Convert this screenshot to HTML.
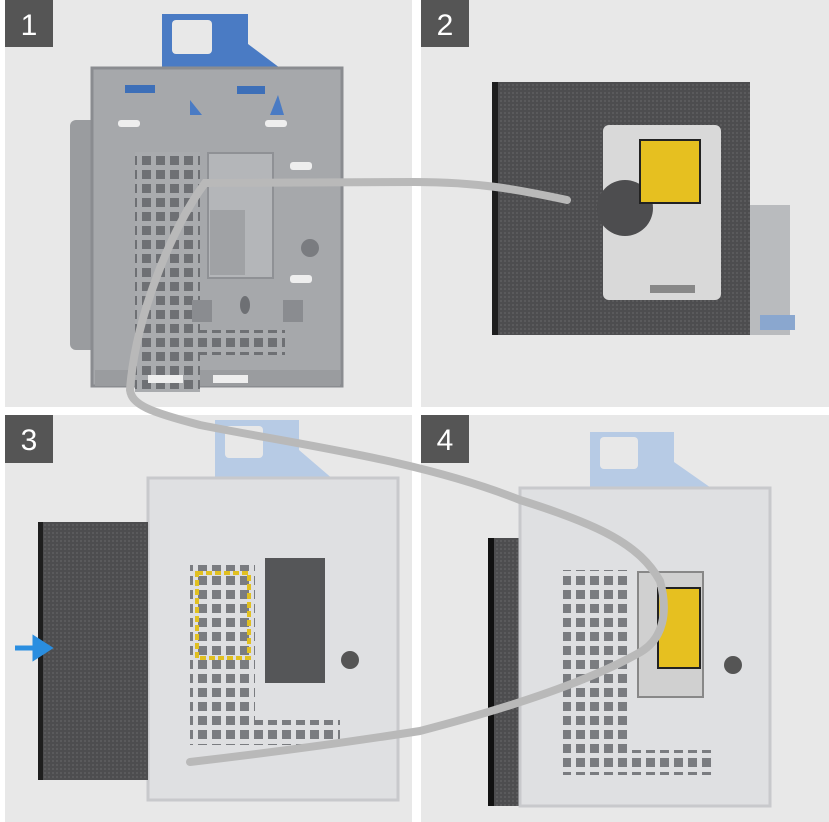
<!DOCTYPE html>
<html><head><style>
html,body{margin:0;padding:0;background:#fff;}
svg{display:block}
text{font-family:"Liberation Sans",sans-serif}
</style></head><body>
<svg width="829" height="822" viewBox="0 0 829 822" xmlns="http://www.w3.org/2000/svg">
<defs>
<pattern id="g1" width="14" height="14" patternUnits="userSpaceOnUse"><rect width="14" height="14" fill="#a9abae"/><rect x="2" y="2" width="9" height="9" fill="#6e7074"/></pattern>
<pattern id="g2" width="14" height="14" patternUnits="userSpaceOnUse"><rect width="14" height="14" fill="#dedfe1"/><rect x="2" y="2" width="9" height="9" fill="#7a7c80"/></pattern>
<pattern id="dr" width="4" height="4" patternUnits="userSpaceOnUse"><rect width="4" height="4" fill="#4d4d4f"/><rect width="2" height="2" fill="#5a5a5c"/></pattern>
</defs>
<rect width="829" height="822" fill="#fff"/>
<rect x="5" y="0" width="407" height="407" fill="#e8e8e8"/>
<rect x="421" y="0" width="408" height="407" fill="#e8e8e8"/>
<rect x="5" y="415" width="407" height="407" fill="#e8e8e8"/>
<rect x="421" y="415" width="408" height="407" fill="#e8e8e8"/>

<!-- Panel 1 -->
<rect x="70" y="120" width="30" height="230" rx="6" fill="#9a9c9f"/>
<path d="M162 72 V14 h68 v4 h-6 v-4 h24 v30 l40 30 z" fill="#4a7bc4"/>
<rect x="172" y="20" width="40" height="34" rx="4" fill="#e8e8e8"/>
<rect x="92" y="68" width="250" height="318" fill="#a6a8ab" stroke="#8a8c90" stroke-width="3"/>
<rect x="95" y="370" width="245" height="16" fill="#9a9c9f"/>
<rect x="135" y="152" width="65" height="240" fill="url(#g1)"/>
<rect x="135" y="330" width="150" height="25" fill="url(#g1)"/>
<rect x="208" y="153" width="65" height="125" fill="#b4b6b9" stroke="#8f9195" stroke-width="2"/>
<rect x="210" y="210" width="35" height="65" fill="#a0a2a5"/>
<rect x="125" y="85" width="30" height="8" fill="#3d6fb8"/><rect x="237" y="86" width="28" height="8" fill="#3d6fb8"/>
<path d="M190 100 v15 h12 z M278 95 l-8 20 h14 z" fill="#4a7bc4"/>
<rect x="290" y="162" width="22" height="8" rx="3" fill="#eee"/><rect x="290" y="275" width="22" height="8" rx="3" fill="#eee"/>
<rect x="118" y="120" width="22" height="7" rx="3" fill="#eee"/><rect x="265" y="120" width="22" height="7" rx="3" fill="#eee"/>
<rect x="148" y="375" width="35" height="8" fill="#eee"/><rect x="213" y="375" width="35" height="8" fill="#eee"/>
<circle cx="310" cy="248" r="9" fill="#7a7c80"/><ellipse cx="245" cy="305" rx="5" ry="9" fill="#6e7074"/>
<rect x="192" y="300" width="20" height="22" fill="#8a8c90"/><rect x="283" y="300" width="20" height="22" fill="#8a8c90"/>

<!-- Panel 2 -->
<rect x="745" y="205" width="45" height="130" fill="#b9bbbe"/>
<rect x="760" y="315" width="35" height="15" fill="#8aa7cf"/>
<rect x="492" y="82" width="258" height="253" fill="url(#dr)"/>
<rect x="492" y="82" width="6" height="253" fill="#1e1e1e"/>
<rect x="603" y="125" width="118" height="175" rx="6" fill="#d9d9d9"/>
<circle cx="625" cy="208" r="28" fill="#4d4d4f"/>
<rect x="640" y="140" width="60" height="63" fill="#e6c020" stroke="#222" stroke-width="2"/>
<rect x="650" y="285" width="45" height="8" fill="#888"/>

<!-- Panel 3 -->
<path d="M215 480 V420 h66 v4 h-6 v-4 h24 v30 l35 30 z" fill="#b7cbe5"/>
<rect x="225" y="426" width="38" height="32" rx="4" fill="#e8e8e8"/>
<rect x="148" y="478" width="250" height="322" fill="#dfe0e2" stroke="#c8c9cc" stroke-width="3"/>
<rect x="190" y="565" width="65" height="175" fill="url(#g2)"/>
<rect x="190" y="720" width="150" height="25" fill="url(#g2)"/>
<rect x="265" y="558" width="60" height="125" fill="#555658"/>
<rect x="197" y="573" width="52" height="85" fill="none" stroke="#e1c020" stroke-width="4" stroke-dasharray="6 3"/>
<rect x="38" y="522" width="110" height="258" fill="url(#dr)"/>
<rect x="38" y="522" width="5" height="258" fill="#1e1e1e"/>
<path d="M15 648 h20 v-9 l14 9 l-14 9 v-9" fill="#2a8ee0" stroke="#2a8ee0" stroke-width="5"/>
<circle cx="350" cy="660" r="9" fill="#555"/>

<!-- Panel 4 -->
<path d="M590 490 V432 h66 v4 h-6 v-4 h24 v30 l40 28 z" fill="#b7cbe5"/>
<rect x="600" y="437" width="38" height="32" rx="4" fill="#e8e8e8"/>
<rect x="488" y="538" width="37" height="268" fill="url(#dr)"/>
<rect x="488" y="538" width="6" height="268" fill="#111"/>
<rect x="520" y="488" width="250" height="318" fill="#dfe0e2" stroke="#c8c9cc" stroke-width="3"/>
<rect x="563" y="570" width="65" height="200" fill="url(#g2)"/>
<rect x="563" y="750" width="150" height="25" fill="url(#g2)"/>
<rect x="638" y="572" width="65" height="125" fill="#d0d0d0" stroke="#888" stroke-width="2"/>
<rect x="658" y="588" width="42" height="80" fill="#e6c020" stroke="#222" stroke-width="2"/>
<circle cx="733" cy="665" r="9" fill="#555"/>

<!-- cable -->
<path d="M567 200 C520 190 480 182 415 182 L205 183 C170 230 135 320 130 390 C132 405 150 412 200 425 C300 445 420 460 520 500 C600 525 640 545 660 581 C668 610 665 640 637 654 C590 680 520 705 420 731 C330 745 250 755 190 762" fill="none" stroke="#b9b9b9" stroke-width="8" stroke-linecap="round"/>

<!-- badges -->
<rect x="5" y="0" width="48" height="47" fill="#555"/><text x="29" y="35" font-size="30" fill="#fff" text-anchor="middle">1</text>
<rect x="421" y="0" width="48" height="47" fill="#555"/><text x="445" y="35" font-size="30" fill="#fff" text-anchor="middle">2</text>
<rect x="5" y="415" width="48" height="48" fill="#555"/><text x="29" y="450" font-size="30" fill="#fff" text-anchor="middle">3</text>
<rect x="421" y="415" width="48" height="48" fill="#555"/><text x="445" y="450" font-size="30" fill="#fff" text-anchor="middle">4</text>
</svg>
</body></html>
